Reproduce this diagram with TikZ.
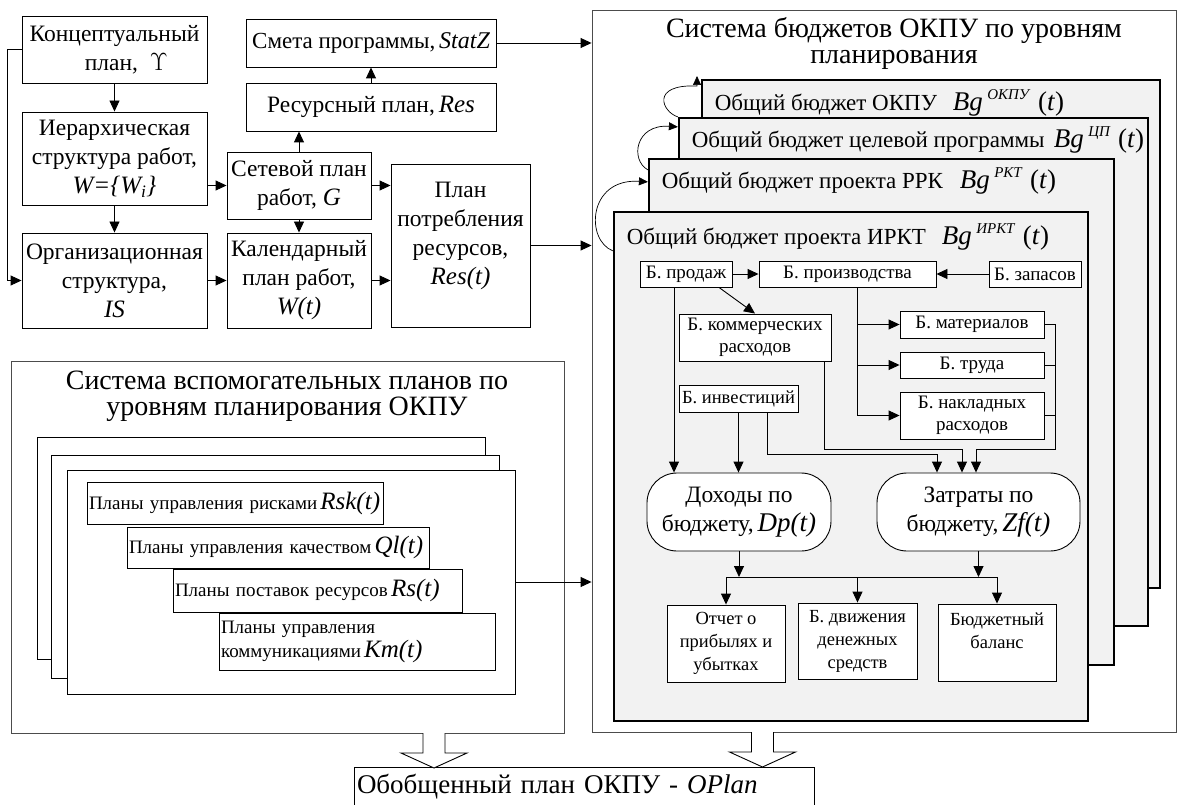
\documentclass[tikz,border=0pt]{standalone}
\usepackage{fontspec}
\setmainfont{Liberation Serif}
\usetikzlibrary{arrows.meta}
\newcommand\mv[1]{{\fontsize{25}{28}\selectfont\itshape #1}}
\newcommand\mvb[1]{{\fontsize{27}{29}\selectfont\itshape #1}}
\newcommand\mvs[1]{{\fontsize{25}{26}\selectfont\itshape #1}}
\newcommand\bgt[1]{{\fontsize{27}{30}\selectfont\textit{Bg}\,\raisebox{11pt}{\fontsize{15}{15}\selectfont\textit{#1}}\;(\textit{t})}}
\newcommand\tightlines{\setlength{\lineskiplimit}{-30pt}}
\tikzset{
box/.style={draw, fill=white, line width=0.9pt, align=center, inner sep=1pt},
layer/.style={draw, fill=black!5, line width=2.2pt},
frame/.style={draw=black!70, fill=white, line width=0.9pt},
plain/.style={draw, fill=white, line width=0.9pt},
curv/.style={->, line width=0.7pt, >={Triangle[length=9pt,width=8pt]}},
fbig/.style={font=\fontsize{23.5}{29}\selectfont},
fmid/.style={font=\fontsize{23.5}{29}\selectfont},
fsmall/.style={font=\fontsize{19}{22.5}\selectfont},
fsmalll/.style={font=\fontsize{18.5}{23}\selectfont},
fplan/.style={font=\fontsize{19}{24}\selectfont},
ftitle/.style={font=\fontsize{28}{26}\selectfont},
ftitlev/.style={font=\fontsize{28}{26}\selectfont\tightlines},
flayer/.style={font=\fontsize{23}{26}\selectfont},
}
\begin{document}
\begin{tikzpicture}[x=1pt, y=-1pt, >={Triangle[length=11pt,width=10pt]}, line width=0.9pt]
\useasboundingbox[fill=white](0,0)rectangle(1178,805);
\node[box, fbig, minimum width=185pt, minimum height=67pt](konc)at(114.5,49.5){Концептуальный\\\quad план,\ \ $\Upsilon$};
\node[box, font=\fontsize{23}{29}\selectfont, minimum width=250pt, minimum height=48pt](smeta)at(371,43){Смета программы,\,{\fontsize{24}{28}\selectfont\itshape StatZ}};
\node[box, fbig, minimum width=250pt, minimum height=48pt](resurs)at(371,107){Ресурсный план,\,\mv{Res}};
\node[box, fbig, minimum width=185pt, minimum height=93pt](ierarh)at(114.5,158.5){Иерархическая\\структура работ,\\\mv{W=\{W\textsubscript{i}\}}};
\node[box, fbig, minimum width=144pt, minimum height=67pt](setevoy)at(299,185.5){Сетевой план\\работ, \mv{G}};
\node[box, fbig, minimum width=139pt, minimum height=163pt](potr)at(460.5,245.5){План\\потребления\\ресурсов,\\\mv{Res(t)}\\[-4pt]~};
\node[box, fbig, minimum width=185pt, minimum height=95pt](org)at(114.5,280.5){Организационная\\структура,\\\mv{IS}};
\node[box, fbig, minimum width=144pt, minimum height=95pt](kal)at(299,280.5){Календарный\\план работ,\\\mv{W(t)}};

\draw[->](konc)--(ierarh);
\draw[->](ierarh)--(org);
\draw[->](ierarh.east|-setevoy.west)--(setevoy.west);
\draw[->](setevoy.north)--(setevoy.north|-resurs.south);
\draw[->](resurs)--(smeta);
\draw[->](setevoy)--(kal);
\draw[->](setevoy.east)--(setevoy.east-|potr.west);
\draw[->](org)--(kal);
\draw[->](kal.east)--(kal.east-|potr.west);
\draw[->](konc.west)--++(-14,0)|-(org.west);

\node[frame, minimum width=584pt, minimum height=722pt](sysB)at(884,371){};
\node[ftitle, align=center](sysBt)at(894,43){Система бюджетов ОКПУ по уровням\\планирования};
\draw[->](smeta.east)--(smeta.east-|sysB.west);
\draw[->](potr.east)--(potr.east-|sysB.west);

\node[layer, minimum width=458pt, minimum height=508pt](l1)at(931,334){};
\node[flayer, anchor=base west](l1t)at(711,111){Общий бюджет ОКПУ};
\node[anchor=base west](l1b)at(949,111){\bgt{ОКПУ}};
\node[layer, minimum width=469pt, minimum height=508pt](l2)at(913.5,372){};
\node[flayer, anchor=base west](l2t)at(688,148){Общий бюджет целевой программы};
\node[anchor=base west](l2b)at(1050,148){\bgt{ЦП}};
\node[layer, minimum width=465pt, minimum height=506pt](l3)at(881.5,412){};
\node[flayer, anchor=base west](l3t)at(658,189){Общий бюджет проекта РРК};
\node[anchor=base west](l3b)at(956,189){\bgt{РКТ}};
\node[layer, minimum width=474pt, minimum height=509pt](l4)at(851,466.5){};
\node[flayer, anchor=base west](l4t)at(623,244){Общий бюджет проекта ИРКТ};
\node[anchor=base west](l4b)at(938,244){\bgt{ИРКТ}};

\draw[curv]([yshift=-40pt]l4.north west)..controls(585,240)and(588,178)..([yshift=-24pt]l3.north west);
\draw[curv]([yshift=-12pt]l3.north west)..controls(630,160)and(635,124)..([yshift=-10pt]l2.north west);
\draw[curv](l2.north west)..controls(662,112)and(650,84)..(697,86)--(697,76);

\node[box, fsmall, minimum width=92pt, minimum height=26pt](prod)at(686,274){Б. продаж};
\node[box, fsmall, minimum width=177pt, minimum height=26pt](proizv)at(847.5,274){Б. производства};
\node[box, fsmall, minimum width=92pt, minimum height=26pt](zapas)at(1035,274){Б. запасов};
\node[box, fsmall, minimum width=152pt, minimum height=47pt](komm)at(755,337.5){Б. коммерческих\\расходов};
\node[box, fsmall, minimum width=144pt, minimum height=27pt](mater)at(972,324.5){Б. материалов};
\node[box, fsmall, minimum width=144pt, minimum height=26pt](truda)at(972,365){Б. труда};
\node[box, fsmall, minimum width=144pt, minimum height=47pt](nakl)at(972,415.5){Б. накладных\\расходов};
\node[box, font=\fontsize{18.5}{22.5}\selectfont, minimum width=119pt, minimum height=27pt](invest)at(738.5,398.5){Б. инвестиций};
\node[box, fmid, rounded corners=30pt, minimum width=184pt, minimum height=78pt](dohod)at(739,512){Доходы по\\бюджету,\,\mvb{Dp(t)}};
\node[box, fmid, rounded corners=30pt, minimum width=203pt, minimum height=78pt](zatr)at(978.5,512){Затраты по\\бюджету,\,\mvb{Zf(t)}};
\node[box, fsmalll, minimum width=118pt, minimum height=77pt](otchet)at(726,643.5){Отчет о\\прибылях и\\убытках};
\node[box, fsmalll, minimum width=119pt, minimum height=76pt](dvizh)at(857.5,641){Б. движения\\денежных\\средств};
\node[box, fsmalll, minimum width=118pt, minimum height=77pt](balans)at(997,642.5){Бюджетный\\баланс\\~};

\draw[->](prod)--(proizv);
\draw[->](zapas)--(proizv);
\draw[->]([xshift=33pt]prod.south)--(komm.north);
\draw[->]([xshift=-12pt]prod.south)--([xshift=-12pt]prod.south|-dohod.north);
\coordinate(pv)at([xshift=9.5pt]proizv.south);
\draw(pv)--(pv|-nakl.west);
\foreach \b in {mater,truda,nakl}
{
    \draw[->](pv|-\b.west)--(\b.west);
}
\coordinate(rc)at(1055,449);
\draw[->](mater.east)-|(rc)-|([xshift=-2.5pt]zatr.north);
\draw(truda.east)--(truda.east-|rc);
\draw(nakl.east)--(nakl.east-|rc);
\coordinate(kb)at(824,449);
\draw[->](komm.south-|kb)--(kb)-|([xshift=-16.5pt]zatr.north);
\draw[->](invest.south)--(invest.south|-dohod.north);
\draw[->]([xshift=28.5pt]invest.south)--++(0,42)-|([xshift=-41.5pt]zatr.north);
\coordinate(hb)at(726,577);
\draw[->](dohod.south)--(dohod.south|-hb);
\draw[->](zatr.south)--(zatr.south|-hb);
\draw(hb)--(hb-|balans.north);
\foreach \b in {otchet,dvizh,balans}
{
    \draw[->](hb-|\b.north)--(\b.north);
}

\node[frame, minimum width=553pt, minimum height=372pt](sysV)at(287.5,547){};
\node[ftitlev, align=center](sysVt)at(287,396){Система вспомогательных планов по\\уровням планирования ОКПУ};
\node[plain, minimum width=447.5pt, minimum height=222pt](st1)at(261.25,548){};
\node[plain, minimum width=448pt, minimum height=223pt](st2)at(275,566.5){};
\node[plain, minimum width=447.5pt, minimum height=224pt](st3)at(291.25,582){};
\node[box, fplan, align=left, text width=292pt, minimum height=42pt, inner sep=2pt](rsk)at(235,503){Планы управления рисками\,\mvs{Rsk(t)}};
\node[box, fplan, align=left, text width=298pt, minimum height=41pt, inner sep=2pt](ql)at(278,547.5){Планы управления качеством\,\mvs{Ql(t)}};
\node[box, fplan, align=left, text width=285pt, minimum height=43pt, inner sep=2pt](rs)at(317.5,590.5){Планы поставок ресурсов\,\mvs{Rs(t)}};
\node[box, fplan, align=left, text width=272pt, minimum height=57pt, inner sep=2pt](km)at(357,641.5){Планы управления\\коммуникациями\,\mvs{Km(t)}};
\draw[->](st3.east)--(st3.east-|sysB.west);

\node[box, font=\fontsize{27}{30}\selectfont, align=left, text width=454pt, minimum height=40pt, inner sep=3pt](oplan)at(584,787){Обобщенный план ОКПУ \textit{- OPlan}};
\coordinate(ha)at(434,733);
\coordinate(hc)at(762.5,732);
\foreach \c in {ha,hc}
{
    \draw[fill=white](\c)++(-11,0)--++(0,20)--++(-22,0)--++(33,15)--++(33,-15)--++(-22,0)--++(0,-20);
}
\end{tikzpicture}
\end{document}
